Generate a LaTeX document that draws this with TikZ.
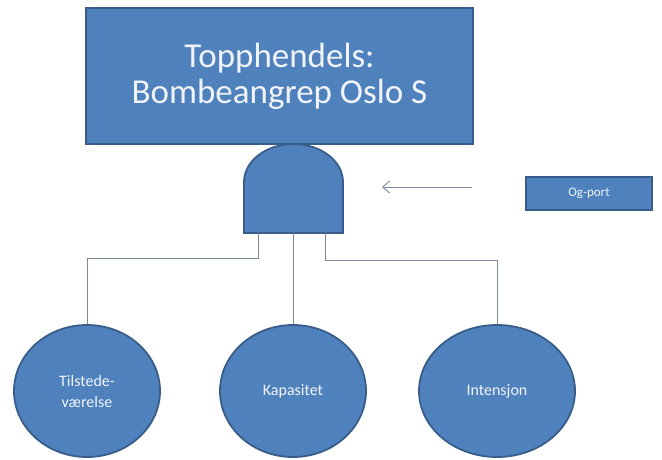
\documentclass[tikz,border=0pt]{standalone}
\usepackage{fontspec}
\setmainfont{Carlito}
\usetikzlibrary{shapes.geometric,arrows.meta}

\definecolor{boxfill}{RGB}{79,129,189}
\definecolor{boxline}{RGB}{56,93,138}
\definecolor{linkgray}{RGB}{125,138,155}
\definecolor{labeltext}{RGB}{240,244,250}

\tikzset{
  x=1pt, y=-1pt,
  blueshape/.style={fill=boxfill, draw=boxline, line width=1.8pt, text=labeltext},
  topbox/.style={blueshape, rectangle, minimum width=387pt, minimum height=136pt,
                 align=center, font=\fontsize{35}{36}\selectfont, inner sep=0pt},
  legendbox/.style={blueshape, rectangle, minimum width=126pt, minimum height=33pt,
                    font=\fontsize{13}{15}\selectfont, inner sep=0pt},
  eventnode/.style={blueshape, ellipse, minimum height=132pt, inner sep=0pt,
                    align=center, font=\fontsize{16}{21}\selectfont},
  link/.style={draw=linkgray, line width=0.9pt},
  pointer/.style={draw=linkgray, line width=0.9pt, -{Straight Barb[length=7pt,width=12pt]}}
}

\begin{document}
\begin{tikzpicture}
  \useasboundingbox (0,0) rectangle (662,459);

  % top event
  \node[topbox] (top) at (279.5,76) {Topphendels:\\Bombeangrep Oslo S};

  % AND gate under the top event
  \path[blueshape] (244,233) -- (244,182) arc[start angle=180, end angle=0, x radius=49.5pt, y radius=38pt]
        -- (343,233) -- cycle;
  \coordinate (gateL) at (258,233);
  \coordinate (gateM) at (293,233);
  \coordinate (gateR) at (325,233);

  % gate legend
  \node[legendbox] (legend) at (589,193.5) {Og-port};
  \coordinate (arrowstart) at (472,187);
  \coordinate (arrowend) at (382,187);
  \draw[pointer] (arrowstart) -- (arrowend);

  % basic events
  \node[eventnode, minimum width=146pt] (presence) at (87,391) {Tilstede-\\værelse};
  \node[eventnode, minimum width=146pt] (capacity) at (293,391) {Kapasitet};
  \node[eventnode, minimum width=156pt] (intent) at (497,391) {Intensjon};

  % connectors from the gate to the events
  \draw[link] (gateL) -- ++(0,25) -| (presence.north);
  \draw[link] (gateM) -- (capacity.north);
  \draw[link] (gateR) -- ++(0,27) -| (intent.north);
\end{tikzpicture}
\end{document}
